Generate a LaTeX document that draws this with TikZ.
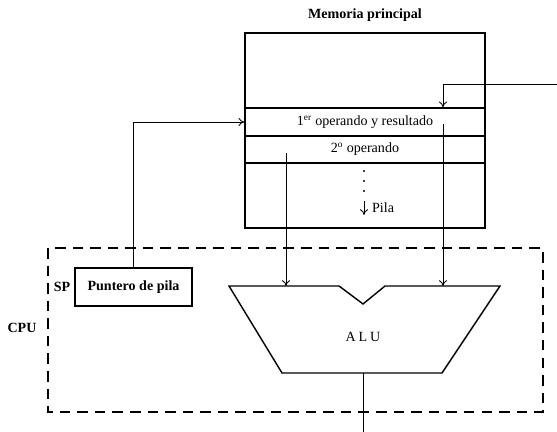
\documentclass[tikz,border=0pt]{standalone}
\usepackage{fontspec}
\setmainfont{Liberation Serif}
\usetikzlibrary{arrows.meta}
\begin{document}
\begin{tikzpicture}[x=0.03cm,y=-0.03cm,>={To[length=5pt,width=7pt]},
celda/.style={draw,line width=1.1pt,minimum width=7.2cm,inner sep=0pt,font=\fontsize{12}{14}\selectfont},
flecha/.style={->,line width=0.75pt},
negrita/.style={font=\fontsize{12}{14}\selectfont\bfseries}]
\useasboundingbox (0,0) rectangle (557,432);
\node[negrita] (titulo) at (365,15) {Memoria principal};
\node[celda,minimum height=75*0.03cm] (libre) at (365,70.5) {};
\node[celda,minimum height=28*0.03cm] (op1) at (365,122) {1\textsuperscript{er} operando y resultado};
\node[celda,minimum height=27*0.03cm] (op2) at (365,149.5) {2\textsuperscript{o} operando};
\node[celda,minimum height=65*0.03cm] (pila) at (365,195.5) {};
\foreach \y in {171,181,191} \fill (364,\y) circle (0.9pt);
\coordinate (p1) at (364,201);
\coordinate (p2) at (364,215);
\draw[flecha] (p1)--(p2);
\node[anchor=west,font=\fontsize{12}{14}\selectfont] (pilatxt) at (368,208) {Pila};
\draw[dashed,line width=1.1pt,dash pattern=on 9pt off 6pt] (48,248) rectangle (543,412);
\node[negrita] (cpu) at (22,328) {CPU};
\node[negrita] (spl) at (62,287) {SP};
\node[draw,line width=1.1pt,minimum width=3.51cm,minimum height=1.14cm,negrita] (sp) at (133.5,287) {Puntero de pila};
\coordinate (aluTL) at (229,286);
\coordinate (aluB) at (363,373);
\draw[line width=1.2pt] (aluTL)--(339,286)--(363,304)--(385,286)--(500,286)--(442,373)--(282,373)--cycle;
\node[font=\fontsize{12}{14}\selectfont] (alu) at (363,337) {A\hspace{2.5pt}L\hspace{2.5pt}U};
\coordinate (ent) at (557,84);
\coordinate (res) at (443,124);
\coordinate (seg) at (286,153);
\coordinate (sal) at (363,432);
\draw[flecha] (sp.north) |- (op1.west);
\draw[flecha] (ent) -| (res |- op1.north);
\draw[flecha] (res) -- (res |- aluTL);
\draw[flecha] (seg) -- (seg |- aluTL);
\draw[line width=0.75pt] (aluB) -- (sal);
\end{tikzpicture}
\end{document}
